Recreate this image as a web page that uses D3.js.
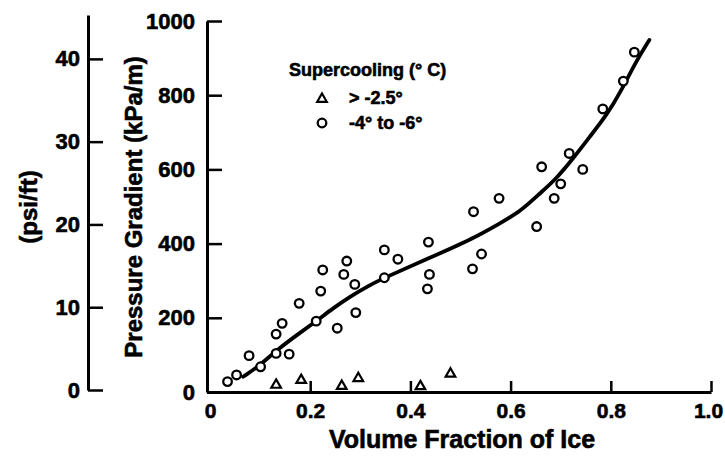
<!DOCTYPE html>
<html>
<head>
<meta charset="utf-8">
<script src="https://cdn.jsdelivr.net/npm/d3@7/dist/d3.min.js"></script>
<style>
  body { margin: 0; background: #fff; }
  svg text { font-family: "Liberation Sans", Arial, Helvetica, sans-serif; font-weight: bold; fill: #000; stroke: #000; stroke-width: 0.6px; }
</style>
</head>
<body>
<div id="chart"></div>
<script>
// -4 to -6 C supercooling (circles)
var circleX = [0.035, 0.053, 0.078, 0.101, 0.132, 0.132, 0.144, 0.158, 0.178, 0.212, 0.221, 0.225,
               0.254, 0.267, 0.273, 0.289, 0.291, 0.348, 0.375, 0.348, 0.436, 0.438, 0.434, 0.526,
               0.542, 0.524, 0.577, 0.652, 0.662, 0.687, 0.700, 0.717, 0.744, 0.784, 0.825, 0.847];
var circleY = [28, 46, 98, 68, 104, 156, 185, 102, 239, 191, 272, 329,
               172, 317, 353, 290, 214, 383, 358, 308, 404, 317, 278, 486,
               372, 332, 522, 446, 607, 522, 561, 643, 600, 763, 838, 916];

// > -2.5 C supercooling (triangles)
var triX = [0.132, 0.182, 0.263, 0.296, 0.420, 0.480];
var triY = [19, 32, 16, 37, 15, 49];

// fitted curve
var fitX = [0.066, 0.101, 0.133, 0.180, 0.212, 0.246, 0.279, 0.316, 0.348, 0.436,
            0.526, 0.579, 0.619, 0.659, 0.692, 0.725, 0.758, 0.792, 0.818, 0.852, 0.877];
var fitY = [41, 73, 113, 160, 191, 226, 257, 286, 308, 360,
            414, 455, 486, 536, 576, 630, 688, 747, 805, 895, 949];

var xTicks = [0, 0.2, 0.4, 0.6, 0.8, 1.0];
var yTicks = [0, 200, 400, 600, 800, 1000];
var psiTicks = [0, 10, 20, 30, 40];

var W = 725, H = 464;
var svg = d3.select("#chart").append("svg")
    .attr("width", W)
    .attr("height", H);

var x = d3.scaleLinear().domain([0, 1]).range([210, 711]);
var y = d3.scaleLinear().domain([0, 1000]).range([392, 21]);
var yPsi = d3.scaleLinear().domain([0, 45.3]).range([390, 15]);

var yAxisX = 207;

// psi/ft axis
var gPsi = svg.append("g")
    .attr("transform", "translate(88,0)")
    .call(d3.axisLeft(yPsi).tickValues(psiTicks).tickSizeInner(-15).tickSizeOuter(0).tickPadding(8));

// kPa/m axis
var gY = svg.append("g")
    .attr("transform", "translate(" + yAxisX + ",0)")
    .call(d3.axisLeft(y).tickValues(yTicks).tickSizeInner(-15).tickSizeOuter(0).tickPadding(12)
        .tickFormat(d3.format("d")));

// x axis
var gX = svg.append("g")
    .attr("transform", "translate(0," + y(0) + ")")
    .call(d3.axisBottom(x).tickValues(xTicks).tickSizeInner(-11).tickSizeOuter(0).tickPadding(11)
        .tickFormat(function(d){ return d === 0 ? "0" : d3.format(".1f")(d); }));
gX.select(".domain").remove();
gX.selectAll(".tick line").filter(function(d){ return d === 0; }).remove();
gX.append("line")
    .attr("x1", yAxisX).attr("x2", x(1) + 0.5)
    .attr("y1", 0.5).attr("y2", 0.5)
    .attr("stroke", "#000").attr("stroke-width", 3);

[gPsi, gY, gX].forEach(function(g){
    g.selectAll(".domain").attr("stroke-width", 3);
    g.selectAll(".tick line").attr("stroke-width", 2.5);
    g.selectAll(".tick text").style("font-size", "22px");
});
gX.selectAll(".tick text").style("font-size", "21px");
gX.selectAll(".tick text").filter(function(d){ return d === 1; }).attr("dx", "-3");

// axis titles
svg.append("text")
    .attr("x", 462).attr("y", 448)
    .attr("text-anchor", "middle")
    .style("font-size", "25px")
    .text("Volume Fraction of Ice");

svg.append("text")
    .attr("transform", "translate(142,207) rotate(-90)")
    .attr("text-anchor", "middle")
    .style("font-size", "24px")
    .text("Pressure Gradient (kPa/m)");

svg.append("text")
    .attr("transform", "translate(37,207) rotate(-90)")
    .attr("text-anchor", "middle")
    .style("font-size", "24px")
    .text("(psi/ft)");

// fitted line
var fit = fitX.map(function(d, i){ return [d, fitY[i]]; });
svg.append("path")
    .datum(fit)
    .attr("fill", "none")
    .attr("stroke", "#000")
    .attr("stroke-width", 3.8)
    .attr("stroke-linecap", "round")
    .attr("d", d3.line()
        .x(function(d){ return x(d[0]); })
        .y(function(d){ return y(d[1]); })
        .curve(d3.curveBasis));

// circles
var circles = circleX.map(function(d, i){ return [d, circleY[i]]; });
svg.selectAll(".pt")
    .data(circles)
    .enter().append("circle")
    .attr("class", "pt")
    .attr("cx", function(d){ return x(d[0]); })
    .attr("cy", function(d){ return y(d[1]); })
    .attr("r", 4.3)
    .attr("fill", "#fff")
    .attr("stroke", "#000")
    .attr("stroke-width", 2.3);

// triangles
var tris = triX.map(function(d, i){ return [d, triY[i]]; });
var tri = d3.symbol().type(d3.symbolTriangle).size(40);
svg.selectAll(".tri")
    .data(tris)
    .enter().append("path")
    .attr("class", "tri")
    .attr("transform", function(d){ return "translate(" + x(d[0]) + "," + y(d[1]) + ")"; })
    .attr("d", tri)
    .attr("fill", "none")
    .attr("stroke", "#000")
    .attr("stroke-width", 2.2);

// legend
var leg = svg.append("g");
leg.append("text").attr("x", 289).attr("y", 76).style("font-size", "18px").text("Supercooling (\u00b0 C)");
leg.append("path").attr("transform", "translate(322,99)").attr("d", tri)
    .attr("fill", "none").attr("stroke", "#000").attr("stroke-width", 2.2);
leg.append("text").attr("x", 349).attr("y", 104).style("font-size", "18px").text("> -2.5\u00b0");
leg.append("circle").attr("cx", 322).attr("cy", 123).attr("r", 4.3)
    .attr("fill", "none").attr("stroke", "#000").attr("stroke-width", 2.3);
leg.append("text").attr("x", 349).attr("y", 129).style("font-size", "18px").text("-4\u00b0 to -6\u00b0");
</script>
</body>
</html>
